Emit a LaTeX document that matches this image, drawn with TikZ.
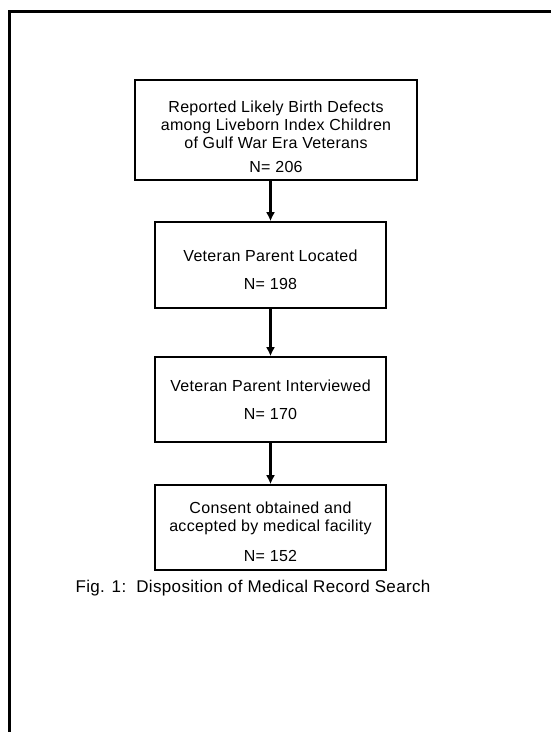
\documentclass[tikz,border=0pt]{standalone}
\usepackage{fontspec}
\setmainfont[LetterSpace=2]{Liberation Sans}
\usetikzlibrary{positioning}
\usetikzlibrary{arrows.meta}

\begin{document}
\begin{tikzpicture}[x=1pt,y=-1pt,->,>={Latex[length=9pt,width=9pt]},line width=2.6pt,
                main node/.style={rectangle,draw,line width=1.6pt,align=center,
                  font=\fontsize{16}{18}\selectfont,minimum width=231pt,minimum height=86pt}]
  \useasboundingbox (0,0) rectangle (551,732);

  % frame
  \draw[-,line width=3pt] (9,732) -- (9,11) -- (551,11);

  \node[main node,minimum width=282pt,minimum height=100pt] (1) at (276,130)
    {\rule{0pt}{26pt}Reported Likely Birth Defects\\among Liveborn Index Children\\of Gulf War Era Veterans\\[6pt]N= 206};
  \node[main node] (2) at (270.5,265) {\rule{0pt}{22pt}Veteran Parent Located\\[10pt]N= 198};
  \node[main node,minimum height=85pt] (3) at (270.5,399.5) {Veteran Parent Interviewed\\[10pt]N= 170};
  \node[main node,minimum height=85pt] (4) at (270.5,527.5)
    {\rule{0pt}{20pt}Consent obtained and\\accepted by medical facility\\[12pt]N= 152};

  \node[anchor=west,font=\fontsize{17}{18}\selectfont] (caption) at (71,588)
    {Fig. 1:\ \ Disposition of Medical Record Search};

  \path
    (1.south -| 2.north) edge (2.north)
    (2) edge (3)
    (3) edge (4);

\end{tikzpicture}
\end{document}
